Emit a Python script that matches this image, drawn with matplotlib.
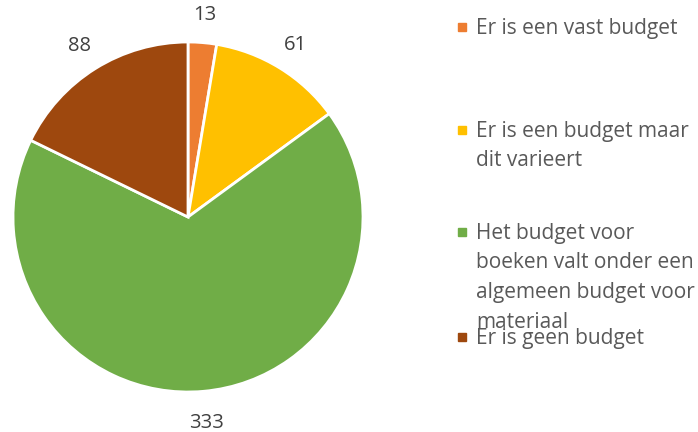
import matplotlib.pyplot as plt
from matplotlib.patches import Rectangle

plt.rcParams['font.family'] = ['Open Sans', 'DejaVu Sans']

# data
categories = ['Er is een vast budget',
              'Er is een budget maar\ndit varieert',
              'Het budget voor\nboeken valt onder een\nalgemeen budget voor\nmateriaal',
              'Er is geen budget']
values = [13, 61, 333, 88]
colors = ['#ED7D31', '#FFC000', '#70AD47', '#9E480E']

W, H = 698, 432
fig = plt.figure(figsize=(W / 100, H / 100), dpi=100)

# pie: center (188, 217) px, radius 175 px
cx, cy, r = 188, 217, 175
ax = fig.add_axes([(cx - r) / W, (H - cy - r) / H, 2 * r / W, 2 * r / H])
total = sum(values)
wedges, texts, autotexts = ax.pie(
    values, colors=colors, startangle=90, counterclock=False,
    wedgeprops=dict(edgecolor='white', linewidth=2),
    autopct=lambda p: f"{round(p * total / 100)}", pctdistance=1.17,
    textprops=dict(fontsize=14.5, color='#404040'))
for t in autotexts:
    t.set_va('center_baseline')
ax.set_xlim(-1, 1)
ax.set_ylim(-1, 1)
ax.set_aspect('equal')
ax.axis('off')

# legend, drawn by hand to keep Excel's odd spacing
entry_y = [27, 130, 232, 337]
line_step = 29.5
for label, col, y in zip(categories, colors, entry_y):
    fig.add_artist(Rectangle((458 / W, (H - y - 4) / H), 8 / W, 8 / H,
                             transform=fig.transFigure, color=col))
    for i, line in enumerate(label.split('\n')):
        fig.text(476 / W, (H - y - 7 - i * line_step) / H, line, fontsize=15,
                 color='#595959', ha='left', va='baseline')

fig.savefig('out.png', dpi=100)
